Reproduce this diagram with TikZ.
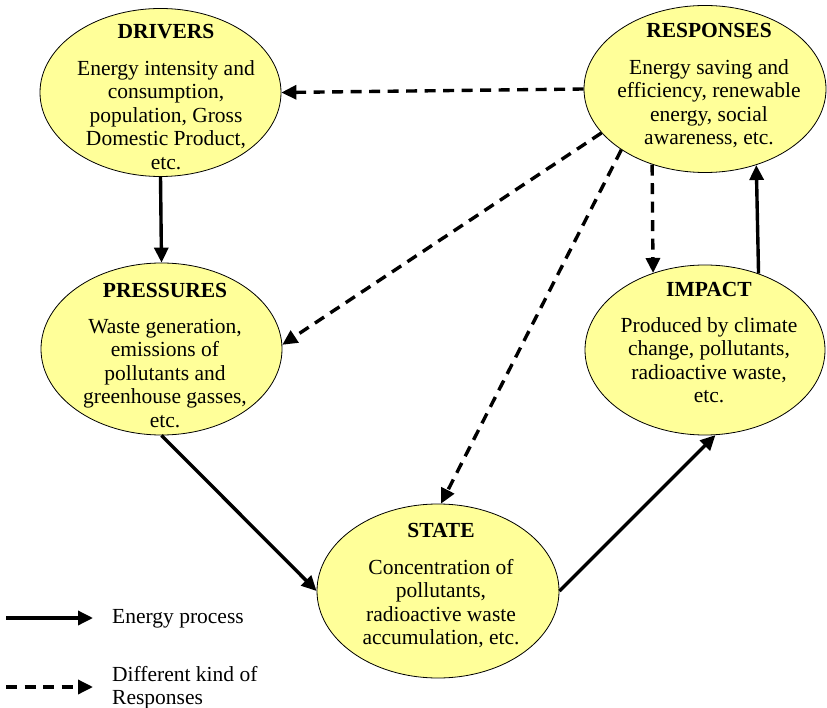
\documentclass[tikz,border=0pt]{standalone}
\usepackage{fontspec}
\setmainfont{Liberation Serif}
\usetikzlibrary{shapes.geometric,arrows.meta}
\definecolor{ellfill}{RGB}{255,255,153}
\begin{document}
\begin{tikzpicture}[x=1pt,y=-1pt,
  ell/.style={ellipse, draw=black, line width=0.8pt, fill=ellfill, inner sep=0pt},
  txt/.style={align=center, font=\fontsize{21.5}{23.5}\selectfont, inner sep=0pt, anchor=north},
  legtxt/.style={align=left, font=\fontsize{21.5}{23}\selectfont, inner sep=0pt},
  solidarrow/.style={line width=3.4pt, -{Triangle[length=15pt,width=14pt]}},
  dasharrow/.style={solidarrow, dash pattern=on 11pt off 7.5pt}]
\useasboundingbox (0,0) rectangle (827,708);

% ellipses
\node[ell, minimum width=241pt, minimum height=168pt] (DRIV) at (160.5,92.5) {};
\node[ell, minimum width=242pt, minimum height=167pt] (RESP) at (705,89) {};
\node[ell, minimum width=241pt, minimum height=172pt] (PRESS) at (161.5,349) {};
\node[ell, minimum width=240pt, minimum height=170pt] (IMP) at (705,350) {};
\node[ell, minimum width=242pt, minimum height=174pt] (STATE) at (438,591) {};

% texts
\node[txt] (DRIVt) at (166,24) {{\bfseries DRIVERS}\\[13.5pt]Energy intensity and\\consumption,\\population, Gross\\Domestic Product,\\etc.};
\node[txt] (RESPt) at (709,23) {{\bfseries RESPONSES}\\[13.5pt]Energy saving and\\efficiency, renewable\\energy, social\\awareness, etc.};
\node[txt] (PRESSt) at (165,283) {{\bfseries PRESSURES}\\[12.5pt]Waste generation,\\emissions of\\pollutants and\\greenhouse gasses,\\etc.};
\node[txt] (IMPt) at (709,282) {{\bfseries IMPACT}\\[12.5pt]Produced by climate\\change, pollutants,\\radioactive waste,\\etc.};
\node[txt] (STATEt) at (441,523) {{\bfseries STATE}\\[13.5pt]Concentration of\\pollutants,\\radioactive waste\\accumulation, etc.};

% connectors
\draw[solidarrow] (DRIV.south) -- (PRESS.north);
\draw[solidarrow] (PRESS.south) -- (STATE.west);
\draw[solidarrow] (STATE.east) -- (IMP.277);
\draw[solidarrow] (IMP.55.8) -- (RESP.304.4);
\draw[dasharrow] (RESP.235.6) -- (IMP.124.2);
\draw[dasharrow] (RESP.west) -- (DRIV.east);
\draw[dasharrow] (RESP.203) -- (PRESS.2);
\draw[dasharrow] (RESP.216) -- (STATE.88);

% legend
\coordinate (L1a) at (6,618);
\coordinate (L1b) at (93,618);
\coordinate (L2a) at (6,687);
\coordinate (L2b) at (93,687);
\draw[solidarrow] (L1a) -- (L1b);
\draw[dasharrow] (L2a) -- (L2b);
\node[legtxt, anchor=base west] (leg1) at (112,623) {Energy process};
\node[legtxt, anchor=north west] (leg2) at (112,666) {Different kind of\\Responses};
\end{tikzpicture}
\end{document}
